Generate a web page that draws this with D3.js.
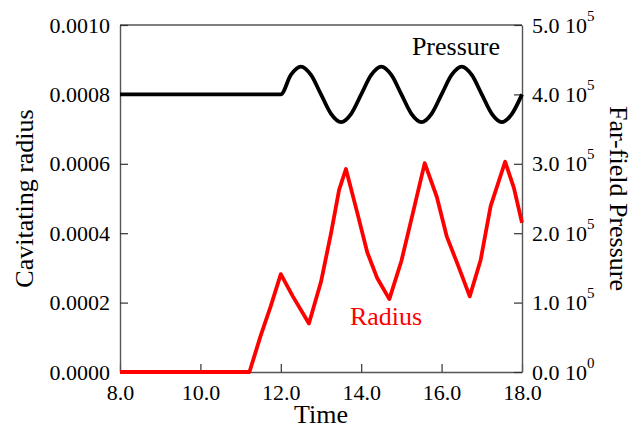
<!DOCTYPE html>
<html>
<head>
<meta charset="utf-8">
<script src="https://cdn.jsdelivr.net/npm/d3@7"></script>
<style>
body { margin: 0; background: #fff; }
</style>
</head>
<body>
<div id="chartContainer"></div>
<script>

// far-field pressure (Pa)
var pressureTime = [8.0, 11.75, 12.0, 12.25, 12.5, 12.75, 13.0, 13.25, 13.5, 13.75, 14.0, 14.25, 14.5, 14.75, 15.0,
    15.25, 15.5, 15.75, 16.0, 16.25, 16.5, 16.75, 17.0, 17.25, 17.5, 17.75, 18.0]
var pressureVal = [4.0e5, 4.0e5, 4.0e5, 4.28e5, 4.4e5, 4.28e5, 4.0e5, 3.72e5, 3.6e5, 3.72e5, 4.0e5, 4.28e5, 4.4e5, 4.28e5, 4.0e5,
    3.72e5, 3.6e5, 3.72e5, 4.0e5, 4.28e5, 4.4e5, 4.28e5, 4.0e5, 3.72e5, 3.6e5, 3.72e5, 4.0e5]

// cavitating radius
var radiusTime = [8.0, 11.22, 11.5, 11.75, 12.0, 12.3, 12.7, 13.0, 13.25, 13.45, 13.62, 13.9, 14.15, 14.4, 14.7,
    15.0, 15.3, 15.58, 15.88, 16.13, 16.4, 16.7, 16.97, 17.22, 17.58, 17.8, 18.0]
var radiusVal = [0, 0, 0.000105, 0.00019, 0.000282, 0.000218, 0.00014, 0.00026, 0.0004, 0.000525, 0.000585, 0.00046, 0.000345, 0.00027, 0.00021,
    0.00032, 0.000465, 0.000602, 0.000505, 0.00039, 0.00031, 0.000218, 0.000322, 0.000478, 0.000606, 0.00053, 0.00043]

var xTicks = [8, 10, 12, 14, 16, 18]
var leftTicks = [0, 0.0002, 0.0004, 0.0006, 0.0008, 0.001]
var rightTicks = [0, 1e5, 2e5, 3e5, 4e5, 5e5]

var width = 633, height = 430
var margin = { left: 120, right: 111, top: 25, bottom: 58 }
var serif = "'Liberation Serif'"

var svg = d3.select('#chartContainer').append('svg')
    .attr('width', width)
    .attr('height', height)

var xScale = d3.scaleLinear().domain([8, 18]).range([margin.left, width - margin.right])
var yLeft = d3.scaleLinear().domain([0, 0.001]).range([height - margin.bottom, margin.top])
var yRight = d3.scaleLinear().domain([0, 5e5]).range([height - margin.bottom, margin.top])

var axisColor = '#555'

// frame top
svg.append('line')
    .attr('x1', xScale(8)).attr('x2', xScale(18))
    .attr('y1', yLeft(0.001)).attr('y2', yLeft(0.001))
    .attr('stroke', axisColor).attr('stroke-width', 1.4)

var xAxis = svg.append('g')
    .attr('class', 'xAxis')
    .attr('transform', 'translate(0,' + yLeft(0) + ')')
    .call(d3.axisBottom(xScale).tickValues(xTicks).tickFormat(d3.format('.1f'))
        .tickSizeInner(-8).tickSizeOuter(0).tickPadding(12))

var leftAxis = svg.append('g')
    .attr('class', 'yAxis')
    .attr('transform', 'translate(' + xScale(8) + ',0)')
    .call(d3.axisLeft(yLeft).tickValues(leftTicks).tickFormat(d3.format('.4f'))
        .tickSizeInner(-8).tickSizeOuter(0).tickPadding(10))

var rightAxis = svg.append('g')
    .attr('class', 'yAxis2')
    .attr('transform', 'translate(' + xScale(18) + ',0)')
    .call(d3.axisRight(yRight).tickValues(rightTicks).tickFormat('')
        .tickSizeInner(-8).tickSizeOuter(0).tickPadding(10))

svg.selectAll('g').attr('font-family', serif)
svg.selectAll('.domain').attr('stroke', axisColor).attr('stroke-width', 1.4)
svg.selectAll('.tick line').attr('stroke', '#333').attr('stroke-width', 1.2)
svg.selectAll('.tick text').attr('font-size', 22).attr('fill', '#000')

rightAxis.selectAll('.tick text').each(function(d) {
    var t = d3.select(this)
    var exp = d === 0 ? 0 : Math.floor(Math.log10(d))
    var mant = d === 0 ? 0 : d / Math.pow(10, exp)
    t.text(null)
    t.append('tspan').text(mant.toFixed(1) + ' 10')
    t.append('tspan').attr('font-size', 15).attr('dy', '-0.8em').text(exp)
})

// lines
var pressureData = pressureTime.map(function(t, i) { return { t: t, v: pressureVal[i] } })
var radiusData = radiusTime.map(function(t, i) { return { t: t, v: radiusVal[i] } })

var pressureLine = d3.line()
    .x(function(d) { return xScale(d.t) })
    .y(function(d) { return yRight(d.v) })
    .curve(d3.curveMonotoneX)

var radiusLine = d3.line()
    .x(function(d) { return xScale(d.t) })
    .y(function(d) { return yLeft(d.v) })

svg.append('path')
    .datum(pressureData)
    .attr('d', pressureLine)
    .attr('fill', 'none')
    .attr('stroke', '#000')
    .attr('stroke-width', 3.8)
    .attr('stroke-linejoin', 'round')

svg.append('path')
    .datum(radiusData)
    .attr('d', radiusLine)
    .attr('fill', 'none')
    .attr('stroke', '#ff0000')
    .attr('stroke-width', 3.8)
    .attr('stroke-linejoin', 'round')

// labels
svg.append('text')
    .attr('x', 500).attr('y', 55)
    .attr('text-anchor', 'end')
    .attr('font-size', 26)
    .text('Pressure')

svg.append('text')
    .attr('x', 386).attr('y', 325)
    .attr('text-anchor', 'middle')
    .attr('font-size', 26)
    .attr('fill', '#ff0000')
    .text('Radius')

svg.append('text')
    .attr('x', (xScale(8) + xScale(18)) / 2).attr('y', 423)
    .attr('text-anchor', 'middle')
    .attr('font-size', 26)
    .text('Time')

svg.append('text')
    .attr('transform', 'translate(33,' + ((yLeft(0) + yLeft(0.001)) / 2) + ') rotate(-90)')
    .attr('text-anchor', 'middle')
    .attr('font-size', 26)
    .text('Cavitating radius')

svg.append('text')
    .attr('transform', 'translate(610,' + ((yLeft(0) + yLeft(0.001)) / 2) + ') rotate(90)')
    .attr('text-anchor', 'middle')
    .attr('font-size', 26)
    .text('Far-field Pressure')

svg.selectAll('text').style('font-family', serif).attr('font-family', serif)

</script>
</body>
</html>
